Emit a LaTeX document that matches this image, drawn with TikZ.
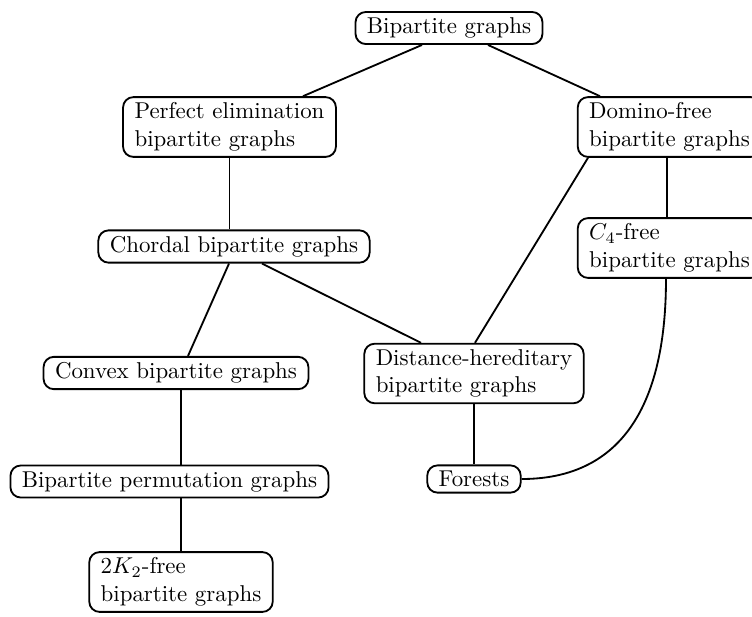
\documentclass[tikz,border=0pt]{standalone}
\usepackage{amsmath}
\usepackage{tikz}
\usetikzlibrary{calc}

\tikzset{
  graphclass/.style={draw, thick, rounded corners=4.5pt, align=left,
    inner xsep=5pt, inner ysep=2.5pt},
  inclusion/.style={thick}
}

\begin{document}
\begin{tikzpicture}[x=0.4367pt, y=-0.4367pt]
\useasboundingbox (0,0) rectangle (752,616);

\node[graphclass] (bip) at (449,28) {Bipartite graphs};
\node[graphclass] (pe) at (229.5,127) {Perfect elimination\\bipartite graphs};
\node[graphclass] (domino) at (669.5,127) {Domino-free\\bipartite graphs};
\node[graphclass] (chordal) at (234,246.5) {Chordal bipartite graphs};
\node[graphclass] (cfour) at (669.5,248) {$C_4$-free\\bipartite graphs};
\node[graphclass] (convex) at (176,373) {Convex bipartite graphs};
\node[graphclass] (dh) at (474,373.5) {Distance-hereditary\\bipartite graphs};
\node[graphclass] (perm) at (169.5,481.5) {Bipartite permutation graphs};
\node[graphclass] (forests) at (474,479) {Forests};
\node[graphclass] (ktwo) at (181,582) {$2K_2$-free\\bipartite graphs};

\draw[inclusion] ($(bip.south)+(-27,0)$) -- ($(pe.north)+(73.5,0)$);
\draw[inclusion] ($(bip.south)+(39,0)$) -- ($(domino.north)+(-69.5,0)$);
\draw[inclusion] (pe.south) -- (pe.south |- chordal.north);
\draw[inclusion] ($(domino.south)+(-2.5,0)$) -- ($(cfour.north)+(-2.5,0)$);
\draw[inclusion] ($(domino.south)+(-81.5,0)$) -- ($(dh.north)+(1,0)$);
\draw[inclusion] ($(chordal.south)+(-5,0)$) -- ($(convex.north)+(12,0)$);
\draw[inclusion] ($(chordal.south)+(28,0)$) -- ($(dh.north)+(-53,0)$);
\draw[inclusion] (dh.south) -- (forests.north);
\draw[inclusion] (convex.south -| ktwo.north) -- (perm.north -| ktwo.north);
\draw[inclusion] (perm.south -| ktwo.north) -- (ktwo.north);
\draw[inclusion] ($(cfour.south)+(-3.5,0)$) .. controls +(0,150) and +(82,0) .. (forests.east);
\end{tikzpicture}
\end{document}
